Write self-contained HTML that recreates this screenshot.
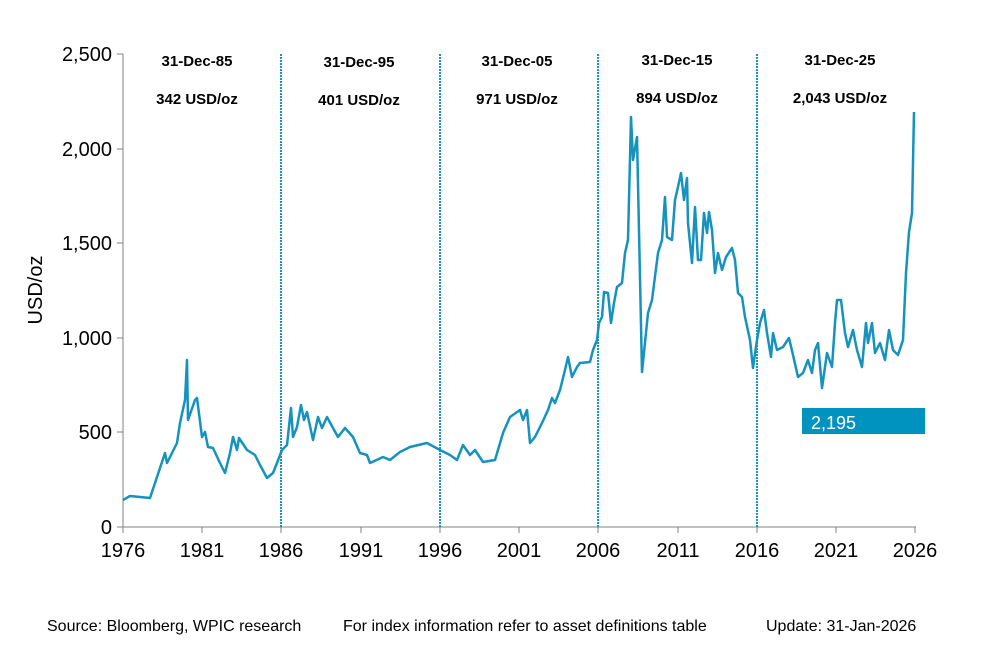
<!DOCTYPE html>
<html><head><meta charset="utf-8"><style>
body{margin:0;background:#fff;}
svg{display:block;font-family:"Liberation Sans",Arial,sans-serif;}
</style></head><body>
<svg width="1000" height="653" viewBox="0 0 1000 653" xmlns="http://www.w3.org/2000/svg">
<g stroke="#808080" stroke-width="1">
<line x1="123" y1="54" x2="123" y2="527"/>
<line x1="123" y1="527" x2="916" y2="527"/>
<line x1="117" y1="54" x2="123" y2="54"/><line x1="117" y1="149" x2="123" y2="149"/>
<line x1="117" y1="243" x2="123" y2="243"/><line x1="117" y1="338" x2="123" y2="338"/>
<line x1="117" y1="432" x2="123" y2="432"/><line x1="117" y1="527" x2="123" y2="527"/>
<line x1="123" y1="527" x2="123" y2="533"/><line x1="202" y1="527" x2="202" y2="533"/>
<line x1="281" y1="527" x2="281" y2="533"/><line x1="361" y1="527" x2="361" y2="533"/>
<line x1="440" y1="527" x2="440" y2="533"/><line x1="519" y1="527" x2="519" y2="533"/>
<line x1="598" y1="527" x2="598" y2="533"/><line x1="678" y1="527" x2="678" y2="533"/>
<line x1="757" y1="527" x2="757" y2="533"/><line x1="836" y1="527" x2="836" y2="533"/>
<line x1="915" y1="527" x2="915" y2="533"/>
</g>
<g stroke="#1a95c0" stroke-width="2" stroke-dasharray="2,1">
<line x1="281" y1="54" x2="281" y2="527"/><line x1="440" y1="54" x2="440" y2="527"/>
<line x1="598" y1="54" x2="598" y2="527"/><line x1="757" y1="54" x2="757" y2="527"/>
</g>
<g font-size="20" fill="#000" text-anchor="end">
<text x="112" y="61">2,500</text><text x="112" y="156">2,000</text>
<text x="112" y="250">1,500</text><text x="112" y="345">1,000</text>
<text x="112" y="439">500</text><text x="112" y="534">0</text>
</g>
<g font-size="20" fill="#000" text-anchor="middle">
<text x="123" y="557">1976</text><text x="202" y="557">1981</text><text x="281" y="557">1986</text>
<text x="361" y="557">1991</text><text x="440" y="557">1996</text><text x="519" y="557">2001</text>
<text x="598" y="557">2006</text><text x="678" y="557">2011</text><text x="757" y="557">2016</text>
<text x="836" y="557">2021</text><text x="915" y="557">2026</text>
</g>
<text transform="translate(42,290) rotate(-90)" font-size="20" text-anchor="middle">USD/oz</text>
<g font-size="15" font-weight="bold" text-anchor="middle">
<text x="197" y="66">31-Dec-85</text><text x="197" y="104">342 USD/oz</text>
<text x="359" y="67">31-Dec-95</text><text x="359" y="105">401 USD/oz</text>
<text x="517" y="66">31-Dec-05</text><text x="517" y="104">971 USD/oz</text>
<text x="677" y="65">31-Dec-15</text><text x="677" y="103">894 USD/oz</text>
<text x="840" y="65">31-Dec-25</text><text x="840" y="103">2,043 USD/oz</text>
</g>
<polyline fill="none" stroke="#1592be" stroke-width="2.5" stroke-linejoin="round" points="
123,500 130,496 140,497 150,498 155,483 165,453 167,463 177,443 180,423 185,400 187,360 188,420 195,400 197,398 202,437 205,432 208,447 213,448 220,463 225,473 230,453 233,437 237,450 239,438 247,450 255,455 260,465 267,478 273,473 277,463 282,450 287,445 291,408 293,437 297,427 301,405 304,420 307,412 313,440 318,417 322,428 327,417 333,428 338,437 345,428 353,437 360,453 367,455 370,463 383,457 390,460 400,452 410,447 427,443 440,450 450,455 457,460 463,445 470,455 475,450 483,462 495,460 503,433 510,417 520,410 523,420 527,410 530,443 535,437 542,423 548,410 552,398 555,403 560,390 565,370 568,357 572,377 577,367 580,363 590,362 593,350 597,340 599,323 602,317 604,292 608,293 611,323 614,303 617,287 622,283 625,253 628,240 631,117 633,160 637,137 642,372 648,313 652,300 658,253 662,240 665,197 667,237 672,240 675,200 678,187 681,173 684,200 687,178 688,223 692,263 695,207 698,260 701,260 704,213 707,233 709,212 712,230 715,273 718,253 722,270 726,257 732,248 735,260 738,293 742,297 745,317 750,340 753,368 757,340 760,323 764,310 767,333 771,357 773,333 777,350 783,347 789,338 793,355 798,377 803,373 808,360 812,373 815,350 818,343 822,388 827,353 832,367 835,323 837,300 841,300 845,333 848,347 853,330 857,350 862,367 866,323 868,343 872,323 875,353 880,343 885,360 889,330 893,350 898,355 903,340 906,273 909,232 912,213 914,112"/>
<rect x="802" y="408" width="123" height="26" fill="#0093bf"/>
<text x="811" y="429" font-size="18" fill="#fff">2,195</text>
<g font-size="16" fill="#000">
<text x="47" y="631">Source: Bloomberg, WPIC research</text>
<text x="343" y="631">For index information refer to asset definitions table</text>
<text x="766" y="631">Update: 31-Jan-2026</text>
</g>
</svg>
</body></html>
